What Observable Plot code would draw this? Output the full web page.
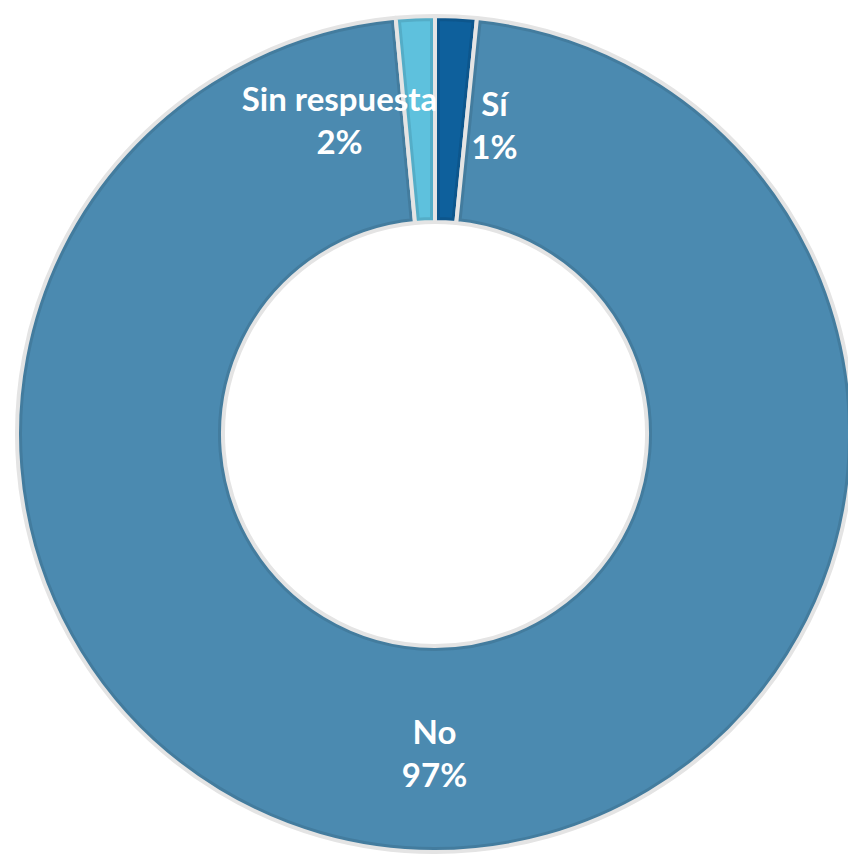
<!DOCTYPE html>
<html><head><meta charset="utf-8">
<script src="https://cdn.jsdelivr.net/npm/d3@7"></script>
<script src="https://cdn.jsdelivr.net/npm/@observablehq/plot@0.6"></script>
<style>html,body{margin:0;padding:0;background:#fff;overflow:hidden}</style>
</head><body><div id="chart"></div>
<script>
const categories = ["Sí", "No", "Sin respuesta"];
const values = [1.6, 96.9, 1.5];
const percentLabels = ["1%", "97%", "2%"];
const colors = ["#0e609c", "#4b8ab0", "#5ec1dd"];

let acc = 0;
const data = categories.map((c, i) => {
  const start = acc; acc += values[i];
  return {category: c, value: values[i], start, end: acc, mid: start + values[i] / 2, label: c + "\n" + percentLabels[i]};
});

const W = 870, H = 868;
const R_OUT = 418, R_IN = 212, R_LABEL = 317;
const labelOffsets = {"Sí": [43, 6], "No": [0, 0], "Sin respuesta": [-81, 1]};

function arcRender(index, scales, v, dims) {
  const cx = dims.width / 2, cy = dims.height / 2;
  const g = d3.create("svg:g").attr("transform", `translate(${cx},${cy})`);
  const arc = d3.arc().innerRadius(R_IN).outerRadius(R_OUT);
  for (const i of index) {
    const d = arc({startAngle: v.x1[i], endAngle: v.x2[i]});
    const id = "slice-clip-" + i;
    g.append("clipPath").attr("id", id).append("path").attr("d", d);
    g.append("path")
      .attr("d", d)
      .attr("fill", v.fill[i])
      .attr("stroke", d3.color(v.fill[i]).darker(0.3))
      .attr("stroke-width", 10)
      .attr("clip-path", `url(#${id})`);
    g.append("path")
      .attr("d", d)
      .attr("fill", "none")
      .attr("stroke", "#e4e4e4")
      .attr("stroke-width", 4)
      .attr("stroke-linejoin", "round");
  }
  return g.node();
}

function labelRender(index, scales, v, dims, ctx, next) {
  const cx = dims.width / 2, cy = dims.height / 2;
  const X = [], Y = [];
  for (const i of index) {
    const a = v.x[i];
    const off = labelOffsets[data[i].category];
    X[i] = cx + R_LABEL * Math.sin(a) + off[0];
    Y[i] = cy - R_LABEL * Math.cos(a) + off[1];
  }
  return next(index, scales, {...v, x: X, y: Y}, dims, ctx);
}

const chart = Plot.plot({
  width: W, height: H, margin: 0,
  style: {maxWidth: "none", fontFamily: "Lato"},
  x: {domain: [0, 100], range: [0, 2 * Math.PI], axis: null},
  color: {domain: categories, range: colors},
  marks: [
    Plot.barX(data, {x1: "start", x2: "end", fill: "category", render: arcRender}),
    Plot.text(data, {x: "mid", text: "label", fill: "white", fontSize: 33, fontWeight: 700,
      lineHeight: 1.3, fontFamily: "Lato", render: labelRender})
  ]
});
document.getElementById("chart").append(chart);
</script></body></html>
